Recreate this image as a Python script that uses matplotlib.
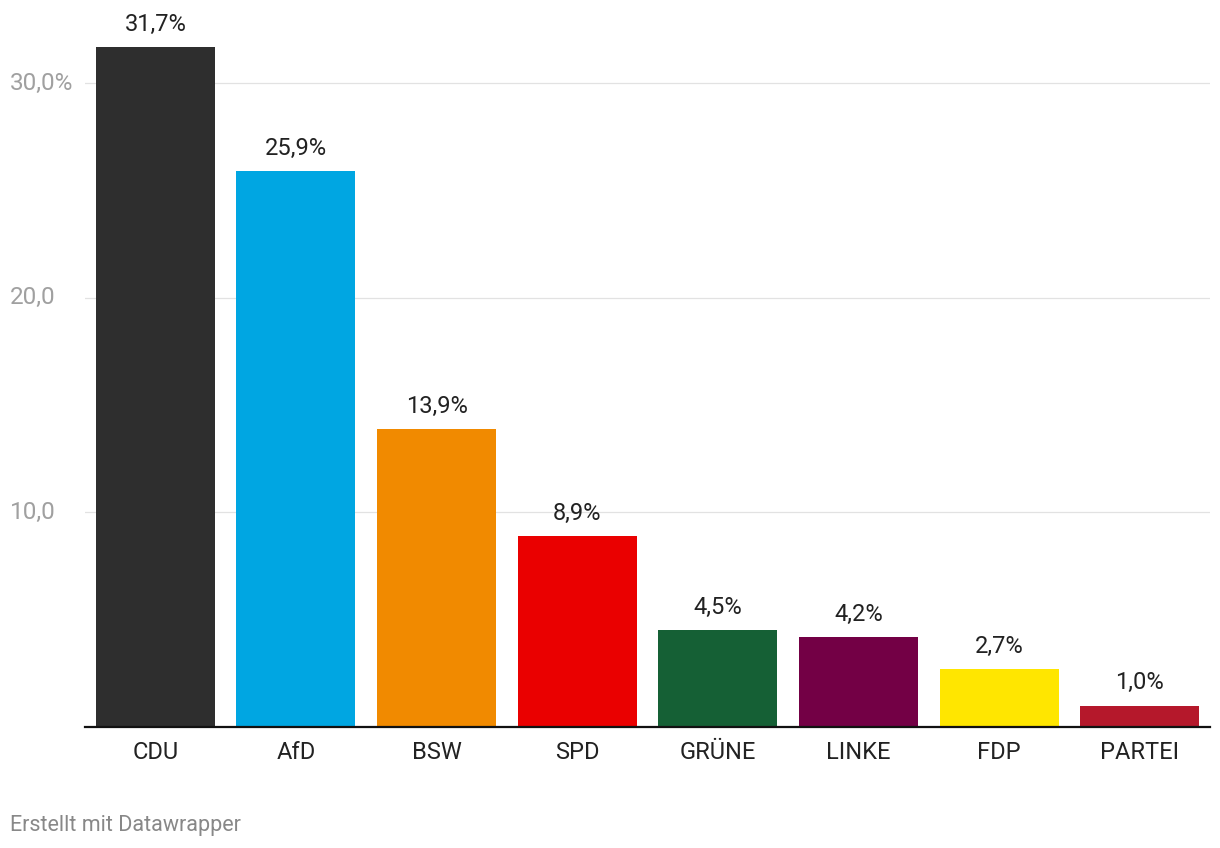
import matplotlib
matplotlib.use("Agg")
import matplotlib.pyplot as plt
from matplotlib.transforms import blended_transform_factory

parties = ["CDU", "AfD", "BSW", "SPD", "GRÜNE", "LINKE", "FDP", "PARTEI"]
values = [31.7, 25.9, 13.9, 8.9, 4.5, 4.2, 2.7, 1.0]
colors = ["#2e2e2e", "#00a6e2", "#f18a00", "#ea0000", "#156035", "#730045", "#ffe600", "#b5182b"]
yticks = [10, 20, 30]
ytick_labels = ["10,0", "20,0", "30,0%"]

plt.rcParams["font.family"] = ["Roboto", "DejaVu Sans"]

W, H = 1220, 848
fig = plt.figure(figsize=(W / 100, H / 100), dpi=100)
left, right = 85 / W, 1210 / W
bottom = (H - 727) / H
top = (H - 30) / H
ax = fig.add_axes([left, bottom, right - left, top - bottom])

x = list(range(len(parties)))
ax.bar(x, values, width=0.846, color=colors, zorder=2)
ax.set_xlim(-0.5, len(parties) - 0.5)
ax.set_ylim(0, 32.49)

for s in ["top", "right", "left"]:
    ax.spines[s].set_visible(False)
ax.spines["bottom"].set_color("#111111")
ax.spines["bottom"].set_linewidth(1.6)
ax.spines["bottom"].set_zorder(3)

for t in yticks:
    ax.axhline(t, color="#e2e2e2", linewidth=0.9, zorder=1)

ax.set_yticks([])
ax.set_xticks(x)
ax.set_xticklabels(parties, fontsize=17, color="#222222")
ax.tick_params(axis="x", length=0, pad=10)

trans = blended_transform_factory(fig.transFigure, ax.transData)
for t, lab in zip(yticks, ytick_labels):
    fig.text(10 / W, t, lab, transform=trans, ha="left", va="center",
             fontsize=17.5, color="#a0a0a0")

for xi, v in zip(x, values):
    ax.annotate(f"{v:.1f}".replace(".", ",") + "%", (xi, v), xytext=(0, 8),
                textcoords="offset points", ha="center", va="bottom",
                fontsize=17, color="#222222")

fig.text(10 / W, 1 - 825 / H, "Erstellt mit Datawrapper", ha="left", va="center",
         fontsize=15.5, color="#888888")

fig.savefig("out.png", dpi=100, facecolor="white")
